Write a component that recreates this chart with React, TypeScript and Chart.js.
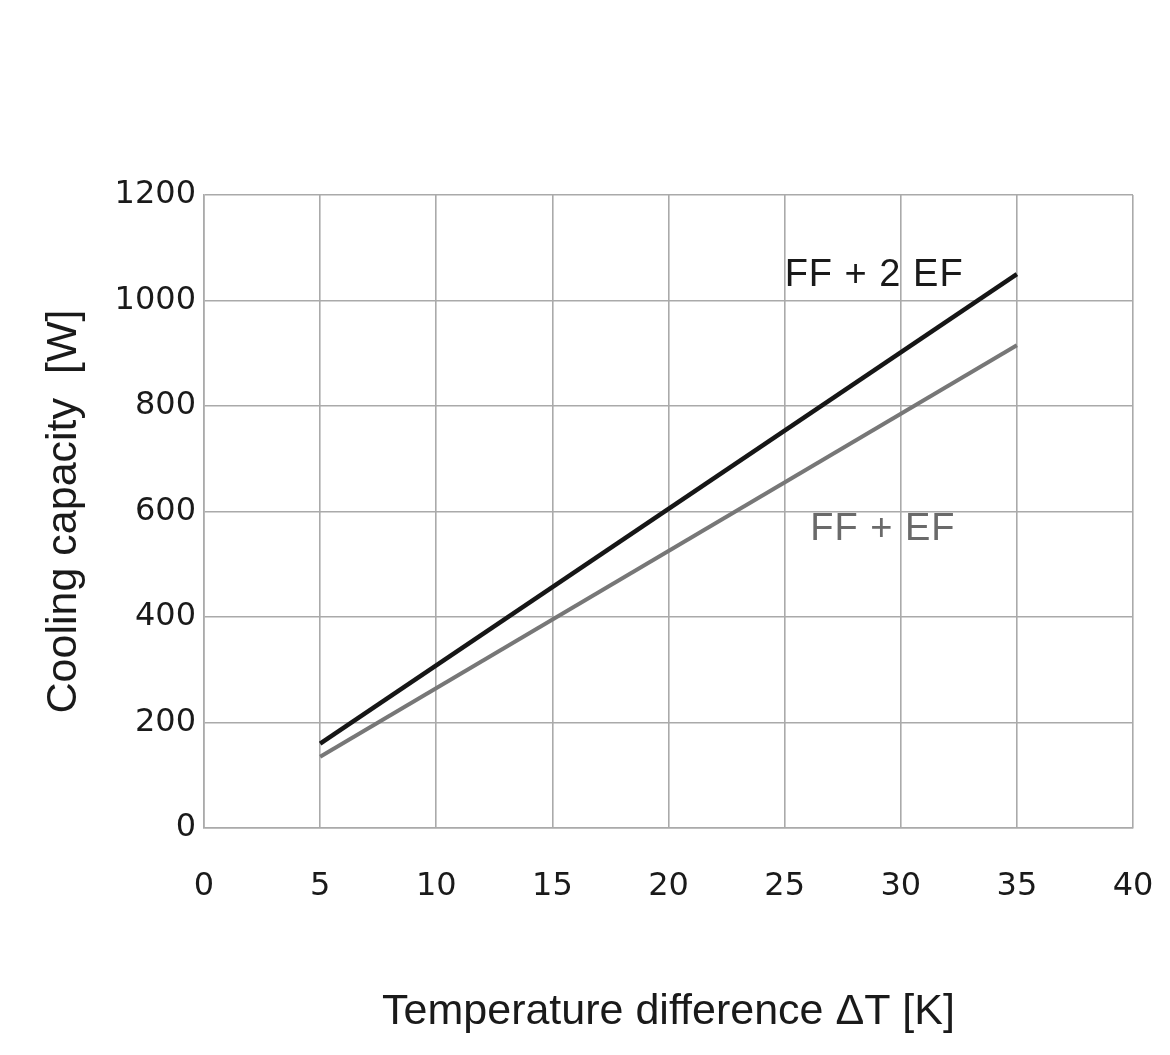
import { useEffect, useRef } from 'react'
import { Chart, registerables } from 'chart.js'
import type { Plugin } from 'chart.js'

Chart.register(...registerables)

// Temperature difference ΔT [K]
const deltaT = [5, 35]
// Cooling capacity [W]
const ffPlus2Ef = [160, 1050]
const ffPlusEf = [135, 915]

const xTicks = [0, 5, 10, 15, 20, 25, 30, 35, 40]
const yTicks = [0, 200, 400, 600, 800, 1000, 1200]

// curve labels, placed in data coordinates
const curveLabels = [
  { text: 'FF + 2 EF', x: 25.0, y: 1048, color: '#1a1a1a' },
  { text: 'FF + EF', x: 26.1, y: 565, color: '#6a6a6a' }
]

const GRID = '#aaaaaa'
const TICK_FONT = "'DejaVu Sans', sans-serif"
const TITLE_FONT = "'Liberation Sans', Arial, sans-serif"

const labelPlugin: Plugin<'line'> = {
  id: 'curveLabels',
  afterDatasetsDraw(chart) {
    const { ctx, scales } = chart
    ctx.save()
    ctx.font = `38px ${TITLE_FONT}`
    ;(ctx as any).letterSpacing = '1px'
    ctx.textAlign = 'left'
    ctx.textBaseline = 'middle'
    curveLabels.forEach(l => {
      ctx.fillStyle = l.color
      ctx.fillText(l.text, scales.x.getPixelForValue(l.x), scales.y.getPixelForValue(l.y))
    })
    ctx.restore()
  }
}

export default function App() {
  const canvasRef = useRef<HTMLCanvasElement>(null)

  useEffect(() => {
    if (!canvasRef.current) return
    const chart = new Chart(canvasRef.current, {
      type: 'line',
      data: {
        datasets: [
          {
            label: 'FF + 2 EF',
            data: deltaT.map((x, i) => ({ x, y: ffPlus2Ef[i] })),
            borderColor: '#161616',
            borderWidth: 4.5,
            pointRadius: 0
          },
          {
            label: 'FF + EF',
            data: deltaT.map((x, i) => ({ x, y: ffPlusEf[i] })),
            borderColor: '#777777',
            borderWidth: 4,
            pointRadius: 0
          }
        ]
      },
      options: {
        animation: false,
        responsive: true,
        maintainAspectRatio: false,
        layout: { padding: { top: 195, right: 37, left: 0, bottom: 0 } },
        plugins: {
          legend: { display: false },
          tooltip: { enabled: false }
        },
        scales: {
          x: {
            type: 'linear',
            min: 0,
            max: 40,
            afterBuildTicks: scale => {
              scale.ticks = xTicks.map(value => ({ value }))
            },
            afterFit: (scale: any) => {
              scale.height = 227
              // no extra room for the overhanging end labels
              scale.paddingLeft = 0
              scale.paddingRight = 0
            },
            ticks: {
              padding: 39,
              color: '#1a1a1a',
              font: { family: TICK_FONT, size: 32 },
              callback: value => String(value)
            },
            grid: { color: GRID, lineWidth: 1.6, drawTicks: false },
            border: { color: GRID, width: 1.6 },
            title: {
              display: true,
              text: 'Temperature difference ΔT [K]',
              color: '#1a1a1a',
              font: { family: TITLE_FONT, size: 43 },
              padding: { top: 0, bottom: 17 }
            }
          },
          y: {
            type: 'linear',
            min: 0,
            max: 1200,
            afterBuildTicks: scale => {
              scale.ticks = yTicks.map(value => ({ value }))
            },
            afterFit: scale => {
              scale.width = 204
            },
            ticks: {
              padding: 8,
              color: '#1a1a1a',
              font: { family: TICK_FONT, size: 32 },
              callback: value => String(value)
            },
            grid: { color: GRID, lineWidth: 1.6, drawTicks: false },
            border: { color: GRID, width: 1.6 },
            title: {
              display: true,
              text: 'Cooling capacity  [W]',
              color: '#1a1a1a',
              font: { family: TITLE_FONT, size: 43 },
              padding: { top: 38, bottom: 0 }
            }
          }
        }
      },
      plugins: [labelPlugin]
    })
    return () => chart.destroy()
  }, [])

  return (
    <div style={{ position: 'absolute', left: 0, top: 0, width: 1170, height: 1055, background: '#fff' }}>
      <canvas ref={canvasRef}></canvas>
    </div>
  )
}
